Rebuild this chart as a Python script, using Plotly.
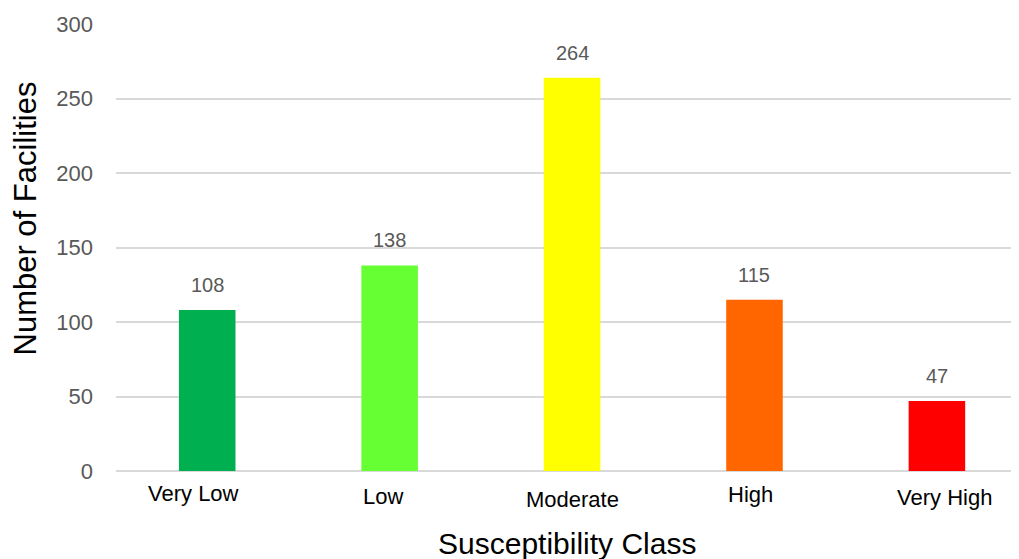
import plotly.graph_objects as go

categories = ["Very Low", "Low", "Moderate", "High", "Very High"]
facilities = [108, 138, 264, 115, 47]
bar_colors = ["#00B050", "#66FF33", "#FFFF00", "#FF6600", "#FF0000"]
y_ticks = [0, 50, 100, 150, 200, 250, 300]

# small visual offsets of the category labels (style only)
label_dx = [-14, -7, 0, -4, 8]
label_dy = [-22, -25, -28, -23, -26]

font_family = "Liberation Sans, Arial, sans-serif"

fig = go.Figure()
fig.add_trace(go.Bar(
    x=categories, y=facilities,
    marker=dict(color=bar_colors, line=dict(width=0)),
    width=0.31,
    hoverinfo="x+y",
))

annotations = []
for c, v in zip(categories, facilities):
    annotations.append(dict(
        x=c, y=v, xref="x", yref="y", text=str(v), showarrow=False,
        yshift=25, font=dict(family=font_family, size=20, color="#595959"),
    ))
for c, dx, dy in zip(categories, label_dx, label_dy):
    annotations.append(dict(
        x=c, y=0, xref="x", yref="paper", text=c, showarrow=False,
        xshift=dx, yshift=dy, yanchor="middle",
        font=dict(family=font_family, size=22, color="#000000"),
    ))
annotations.append(dict(
    x=0.5, y=0, xref="paper", yref="paper",
    text="Susceptibility Class", showarrow=False, yshift=-72, yanchor="middle",
    xshift=-1,
    font=dict(family=font_family, size=30, color="#000000"),
))
annotations.append(dict(
    x=0, y=0.5, xref="paper", yref="paper", text="Number of Facilities",
    showarrow=False, textangle=-90, xanchor="center", xshift=-91,
    yshift=29, borderpad=0,
    font=dict(family=font_family, size=31, color="#000000"),
))

fig.update_layout(
    width=1011, height=551,
    margin=dict(l=108, r=0, t=16, b=88),
    paper_bgcolor="white", plot_bgcolor="white",
    showlegend=False,
    xaxis=dict(range=[-0.5, 4.45], showticklabels=False, showgrid=False,
               zeroline=False, showline=False, ticks=""),
    yaxis=dict(range=[0, 300], tickvals=y_ticks, showgrid=True,
               gridcolor="#D9D9D9", gridwidth=1.5, zeroline=True,
               zerolinecolor="#D9D9D9", zerolinewidth=1.5, showline=False,
               ticks="", ticklabelstandoff=22,
               tickfont=dict(family=font_family, size=22, color="#595959")),
    annotations=annotations,
)

fig.write_html("out.html")
